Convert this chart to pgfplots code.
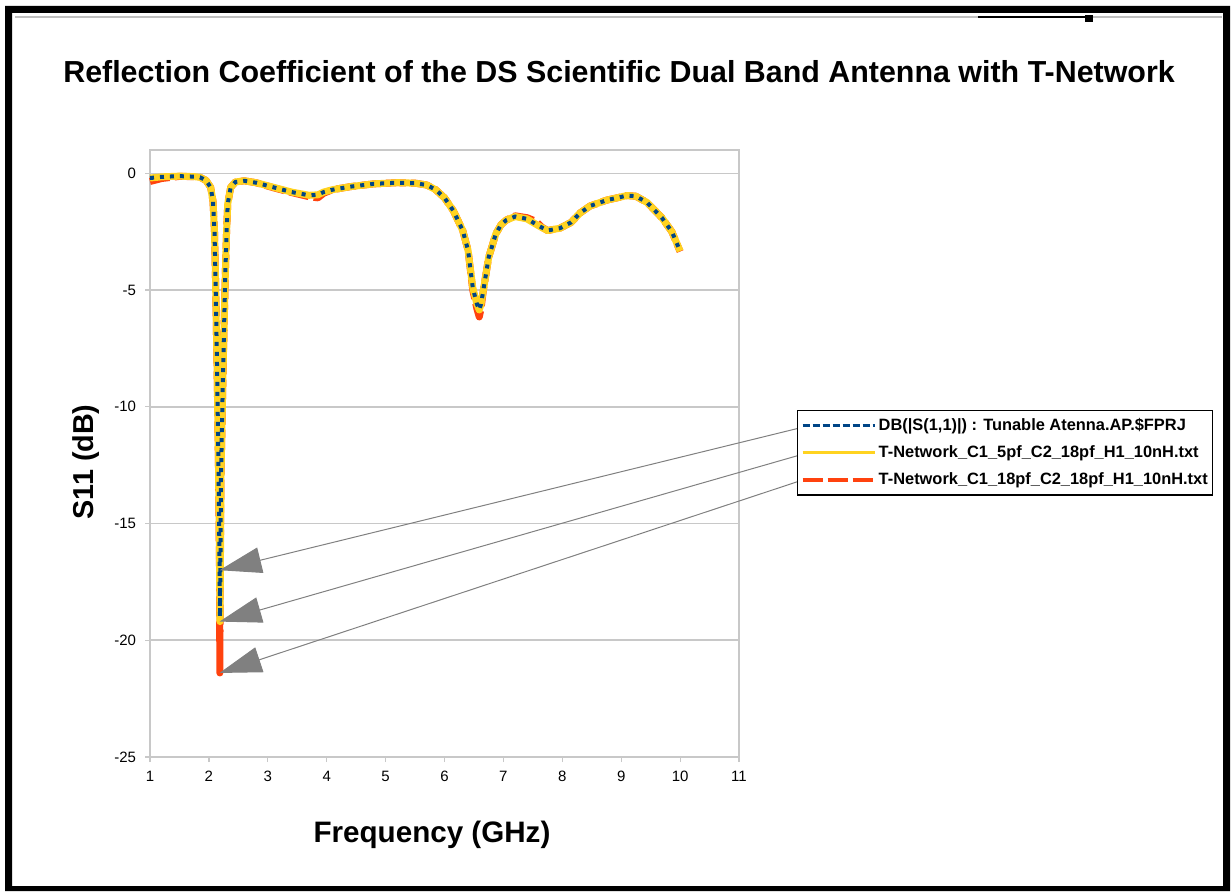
\documentclass[border=0pt]{standalone}
\usepackage{pgfplots}
\pgfplotsset{compat=1.18}
\usepackage{fontspec}
\setmainfont{Liberation Sans}
\usetikzlibrary{arrows.meta}

\definecolor{ooblue}{HTML}{004586}
\definecolor{ooorange}{HTML}{FF420E}
\definecolor{ooyellow}{HTML}{FFD320}
\definecolor{gridgray}{HTML}{C8C8C8}
\definecolor{arrowgray}{HTML}{808080}

% 1 px of the reference = 0.5pt
\begin{document}
\begin{tikzpicture}[x=1pt,y=1pt]
\useasboundingbox (0,0) rectangle (615.5,445.5);
% outer black frame
\fill[black,even odd rule] (2.5,0) rectangle (615,442.5) (6,2.5) rectangle (611.5,439);
\draw[gray!50,line width=0.7pt] (7.5,437) -- (611,437);
\draw[black,line width=1pt] (489,437.2) -- (542.5,437.2);
\fill[black] (542.5,434.5) rectangle (546.5,438);

\begin{axis}[
    at={(75pt,67pt)}, anchor=south west,
    scale only axis,
    width=294.5pt, height=303.5pt,
    xmin=1, xmax=11, ymin=-25, ymax=1,
    xtick={1,2,...,11},
    ytick={-25,-20,-15,-10,-5,0},
    axis line style={gridgray,line width=0.8pt},
    ymajorgrids=true,
    grid style={gridgray,line width=0.8pt},
    tick pos=left,
    tick align=outside,
    major tick length=2.5pt,
    tick style={gridgray,line width=0.6pt},
    ticklabel style={font=\fontsize{7.5}{9}\selectfont},
    /pgf/number format/assume math mode=true,
    xticklabel style={yshift=-1pt},
    yticklabel style={xshift=-1pt},
    clip=false,
    reverse legend,
    legend style={at={(1.0985,0.5717)}, anchor=north west,
        draw=black, line width=0.7pt,
        font=\fontsize{8.2}{9}\selectfont\bfseries,
        inner xsep=1.5pt, inner ysep=2.6pt, row sep=4.2pt,
        nodes={inner sep=1pt, anchor=west}},
    legend cell align=left,
]
% drawn first so it sits under the others
\addplot[ooorange, line width=3.5pt, dash pattern=on 10pt off 2.5pt, line join=round,
    legend image code/.code={\draw[ooorange,line width=2pt,dash pattern=on 10pt off 2.5pt] (0pt,0pt) -- (36pt,0pt);}]
coordinates {
(1.0,-0.35) (1.2,-0.22) (1.5,-0.13) (1.75,-0.14) (1.85,-0.17) (1.95,-0.3)
(2.03,-0.6) (2.07,-1.2) (2.095,-2.5) (2.11,-4.2) (2.14,-8.5) (2.165,-13)
(2.18,-17.0) (2.186,-21.4) (2.192,-17.0) (2.205,-13) (2.24,-8.5) (2.28,-4.2)
(2.30,-2.5) (2.32,-1.3) (2.37,-0.6) (2.45,-0.37) (2.6,-0.32) (2.8,-0.4)
(3.1,-0.62) (3.4,-0.82) (3.7,-1.0) (3.85,-1.05) (3.95,-0.85) (4.1,-0.7)
(4.4,-0.57) (4.8,-0.45) (5.2,-0.4) (5.5,-0.42) (5.7,-0.5) (5.85,-0.7)
(6.0,-1.05) (6.15,-1.6) (6.31,-2.45) (6.4,-3.3) (6.48,-5.0) (6.55,-5.8)
(6.59,-6.15) (6.62,-5.8) (6.66,-5.0) (6.75,-3.6) (6.87,-2.6) (6.96,-2.2)
(7.05,-2.0) (7.2,-1.82) (7.4,-1.9) (7.55,-2.05) (7.65,-2.3) (7.75,-2.45)
(7.96,-2.35) (8.15,-2.1) (8.3,-1.7) (8.47,-1.4) (8.75,-1.15) (8.98,-1.02)
(9.1,-0.95) (9.25,-0.98) (9.44,-1.25) (9.69,-1.9) (9.86,-2.5) (10.0,-3.35)
};
\addplot[ooyellow, line width=3.5pt, line join=round,
    legend image code/.code={\draw[ooyellow,line width=1.5pt] (0pt,0pt) -- (36pt,0pt);}]
coordinates {
(1.0,-0.2) (1.2,-0.15) (1.5,-0.12) (1.75,-0.14) (1.85,-0.17) (1.95,-0.3)
(2.03,-0.6) (2.07,-1.2) (2.095,-2.5) (2.11,-4.2) (2.14,-8.5) (2.165,-13)
(2.182,-17.0) (2.188,-19.2) (2.195,-17.0) (2.205,-13) (2.24,-8.5) (2.28,-4.2)
(2.30,-2.5) (2.32,-1.3) (2.37,-0.6) (2.45,-0.37) (2.6,-0.32) (2.8,-0.4)
(3.1,-0.6) (3.4,-0.8) (3.7,-0.94) (3.85,-0.92) (3.95,-0.8) (4.1,-0.7)
(4.4,-0.57) (4.8,-0.45) (5.2,-0.4) (5.5,-0.42) (5.7,-0.5) (5.85,-0.7)
(6.0,-1.05) (6.15,-1.6) (6.31,-2.45) (6.4,-3.3) (6.48,-4.9) (6.55,-5.6)
(6.59,-5.85) (6.62,-5.6) (6.66,-5.0) (6.75,-3.6) (6.87,-2.6) (6.96,-2.2)
(7.05,-2.0) (7.2,-1.85) (7.4,-1.95) (7.6,-2.25) (7.75,-2.45)
(7.96,-2.35) (8.15,-2.1) (8.3,-1.7) (8.47,-1.4) (8.75,-1.15) (8.98,-1.02)
(9.1,-0.95) (9.25,-0.98) (9.44,-1.25) (9.69,-1.9) (9.86,-2.5) (10.0,-3.33)
};
\addplot[ooblue, line width=2pt, dash pattern=on 2pt off 3pt,
    legend image code/.code={\draw[ooblue,line width=1.5pt,dash pattern=on 3.5pt off 1.5pt] (0pt,0pt) -- (36pt,0pt);}]
coordinates {
(1.0,-0.2) (1.2,-0.15) (1.5,-0.12) (1.75,-0.14) (1.85,-0.17) (1.95,-0.3)
(2.03,-0.6) (2.07,-1.2) (2.095,-2.5) (2.11,-4.2) (2.14,-8.5) (2.165,-13)
(2.182,-17.0) (2.188,-19.0) (2.195,-17.0) (2.205,-13) (2.24,-8.5) (2.28,-4.2)
(2.30,-2.5) (2.32,-1.3) (2.37,-0.6) (2.45,-0.37) (2.6,-0.32) (2.8,-0.4)
(3.1,-0.6) (3.4,-0.8) (3.7,-0.94) (3.85,-0.92) (3.95,-0.8) (4.1,-0.7)
(4.4,-0.57) (4.8,-0.45) (5.2,-0.4) (5.5,-0.42) (5.7,-0.5) (5.85,-0.7)
(6.0,-1.05) (6.15,-1.6) (6.31,-2.45) (6.4,-3.3) (6.48,-4.9) (6.55,-5.6)
(6.59,-5.85) (6.62,-5.6) (6.66,-5.0) (6.75,-3.6) (6.87,-2.6) (6.96,-2.2)
(7.05,-2.0) (7.2,-1.85) (7.4,-1.95) (7.6,-2.25) (7.75,-2.45)
(7.96,-2.35) (8.15,-2.1) (8.3,-1.7) (8.47,-1.4) (8.75,-1.15) (8.98,-1.02)
(9.1,-0.95) (9.25,-0.98) (9.44,-1.25) (9.69,-1.9) (9.86,-2.5) (10.0,-3.33)
};
\legend{T-Network\_C1\_18pf\_C2\_18pf\_H1\_10nH.txt,
        T-Network\_C1\_5pf\_C2\_18pf\_H1\_10nH.txt,
        DB(|S(1{,}1)|) : Tunable Atenna.AP.\$FPRJ}
% call-out arrows from the legend to the three minima
\draw[arrowgray,line width=0.5pt,-{Triangle[length=21pt,width=13pt]}]
    (axis cs:12.04,-10.90) -- (axis cs:2.18,-17.0);
\draw[arrowgray,line width=0.5pt,-{Triangle[length=21pt,width=13pt]}]
    (axis cs:12.04,-12.06) -- (axis cs:2.18,-19.2);
\draw[arrowgray,line width=0.5pt,-{Triangle[length=21pt,width=13pt]}]
    (axis cs:11.99,-13.21) -- (axis cs:2.18,-21.4);
\end{axis}

\node[font=\fontsize{15.2}{18}\selectfont\bfseries] at (309.5,409.5)
    {Reflection Coefficient of the DS Scientific Dual Band Antenna with T-Network};
\node[font=\fontsize{14.8}{17}\selectfont\bfseries] at (216,28)
    {Frequency (GHz)};
\node[font=\fontsize{14.4}{17}\selectfont\bfseries,rotate=90] at (43,214.5)
    {S11 (dB)};
\end{tikzpicture}
\end{document}
